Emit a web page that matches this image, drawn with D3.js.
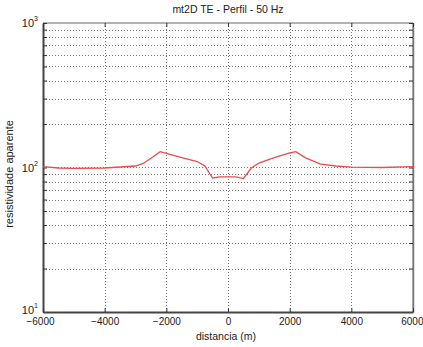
<!DOCTYPE html>
<html><head><meta charset="utf-8">
<script src="https://cdn.jsdelivr.net/npm/d3@7/dist/d3.min.js"></script>
<style>body{margin:0;background:#fff}text{font-family:"Liberation Sans",Arial,sans-serif;fill:#222}</style>
</head><body><svg id="c" width="423" height="347"></svg>
<script>
const distances = [-6000,-5500,-5000,-4000,-3000,-2750,-2500,-2200,-2000,-1500,-1000,-750,-500,-250,0,250,500,750,1000,1500,2000,2200,2500,3000,3500,4000,5000,6000];
const resistivity = [101.3,99.2,98.7,99.2,102.4,106.6,116,128.6,125,117,110,102.4,84.6,86,86,86,83.9,98.7,107.4,117,126,128.6,117,105.7,102.4,100.5,100,101.3];
const xTicks = [-6000,-4000,-2000,0,2000,4000,6000];
const yDecades = [10,100,1000];
const titleText = "mt2D TE - Perfil - 50 Hz";
const xLabel = "distancia (m)";
const yLabel = "resistividade aparente";

const svg = d3.select("#c");
const L=43,R=413,T=23,B=312;
const x = d3.scaleLinear().domain([-6000,6000]).range([L,R]);
const y = d3.scaleLog().domain([10,1000]).range([B,T]);

const minor=[];
[10,100].forEach(d=>{for(let k=2;k<=9;k++)minor.push(d*k);});
const gridY = minor.concat([100]);

const g = svg.append("g");
g.selectAll("line.hg").data(gridY).join("line")
 .attr("x1",L).attr("x2",R).attr("y1",d=>Math.round(y(d))+0.5).attr("y2",d=>Math.round(y(d))+0.5)
 .attr("stroke","#777").attr("stroke-width",1).attr("stroke-dasharray","1,2");
g.selectAll("line.vg").data(xTicks.slice(1,-1)).join("line")
 .attr("x1",d=>Math.round(x(d))+0.5).attr("x2",d=>Math.round(x(d))+0.5).attr("y1",T).attr("y2",B)
 .attr("stroke","#777").attr("stroke-width",1).attr("stroke-dasharray","1,2");

svg.append("line").attr("x1",L).attr("x2",R).attr("y1",T).attr("y2",T).attr("stroke","#999").attr("stroke-width",1.5);
svg.append("line").attr("x1",R).attr("x2",R).attr("y1",T).attr("y2",B).attr("stroke","#999").attr("stroke-width",1.5);

const yAxisL = d3.axisLeft(y).tickValues(minor.concat(yDecades)).tickSizeInner(-4).tickSizeOuter(0).tickFormat("");
const yAxisR = d3.axisRight(y).tickValues(minor.concat(yDecades)).tickSizeInner(-4).tickSizeOuter(0).tickFormat("");
const xAxisB = d3.axisBottom(x).tickValues(xTicks).tickSizeInner(-4).tickSizeOuter(0).tickFormat(d3.format("d"));
const xAxisT = d3.axisTop(x).tickValues(xTicks).tickSizeInner(-4).tickSizeOuter(0).tickFormat("");

const gl = svg.append("g").attr("transform",`translate(${L},0)`).call(yAxisL);
gl.select(".domain").attr("stroke","#444").attr("stroke-width",2);
gl.selectAll(".tick line").attr("stroke","#333");
const gr = svg.append("g").attr("transform",`translate(${R},0)`).call(yAxisR);
gr.select(".domain").attr("stroke","#777").attr("stroke-width",1.5);
gr.selectAll(".tick line").attr("stroke","#333");
const gt = svg.append("g").attr("transform",`translate(0,${T})`).call(xAxisT);
gt.select(".domain").remove();
gt.selectAll(".tick line").attr("stroke","#333");
const gb = svg.append("g").attr("transform",`translate(0,${B})`).call(xAxisB);
gb.select(".domain").attr("stroke","#444").attr("stroke-width",2);
gb.selectAll(".tick line").attr("stroke","#333");
gb.selectAll(".tick text").attr("dy","0.3em").attr("y",10).attr("font-size","10px")
  .attr("font-family","Liberation Sans, Arial, sans-serif").attr("fill","#222")
  .attr("text-anchor",(d,i)=> i===xTicks.length-1 ? "end" : "middle")
  .attr("dx",(d,i)=> i===0 ? -3 : (i===xTicks.length-1 ? 10 : 0));

yDecades.forEach(d=>{
  const t = svg.append("text").attr("x",L-5).attr("y",y(d)+(d===10?2:4)).attr("text-anchor","end").attr("font-size","11px");
  t.append("tspan").text("10");
  t.append("tspan").attr("dy","-6").attr("font-size","7px").text(Math.round(Math.log10(d)));
});

const line = d3.line().x((d,i)=>x(distances[i])).y(d=>y(d));
svg.append("path").datum(resistivity).attr("d",line).attr("fill","none").attr("stroke","#f04a4a").attr("stroke-width",1.3);

svg.append("text").attr("x",(L+R)/2).attr("y",13).attr("text-anchor","middle").attr("font-size","10.5px").text(titleText);
svg.append("text").attr("x",226).attr("y",340).attr("text-anchor","middle").attr("font-size","10.5px").text(xLabel);
svg.append("text").attr("transform",`translate(13,174) rotate(-90)`).attr("text-anchor","middle").attr("font-size","11px").text(yLabel);
</script></body></html>
